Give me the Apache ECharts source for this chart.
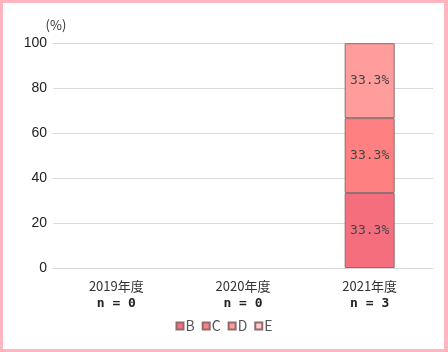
<!DOCTYPE html>
<html>
<head>
<meta charset="utf-8">
<script src="https://cdn.jsdelivr.net/npm/echarts@6/dist/echarts.min.js"></script>
<style>
    html, body { margin: 0; padding: 0; background: #fff; }
    #wrap { position: relative; width: 448px; height: 352px; }
    #chart { position: absolute; left: 0; top: 0; width: 448px; height: 352px; }
    #frame {
        position: absolute; left: 0; top: 0; width: 448px; height: 352px;
        box-sizing: border-box; border: 3px solid #ffb6c1; border-right-width: 4px;
        pointer-events: none;
    }
</style>
</head>
<body>
<div id="wrap">
    <div id="chart"></div>
    <div id="frame"></div>
</div>
<script>
// 年度と回答数
const years = ["2019年度", "2020年度", "2021年度"]
const counts = [0, 0, 3]

// 各評価の割合 (%)
const valuesB = [null, null, 33.3]
const valuesC = [null, null, 33.3]
const valuesD = [null, null, 33.3]
const valuesE = [null, null, null]

const yTicks = [0, 20, 40, 60, 80, 100]

const colors = {
    B: "#f56e7e",
    C: "#ff8080",
    D: "#ff9c9c",
    E: "#ffcaca",
}

function makeSeries(name, data) {
    return {
        name: name,
        type: "bar",
        stack: "total",
        barWidth: 50,
        data: data,
        itemStyle: {
            color: colors[name],
            borderColor: "#8f6b6e",
            borderWidth: 1,
        },
        label: {
            show: true,
            position: "inside",
            fontFamily: "DejaVu Sans Mono",
            fontSize: 13,
            color: "#444",
            formatter: p => (p.value == null ? "" : Number(p.value).toFixed(1) + "%"),
        },
    }
}

const chart = echarts.init(document.getElementById("chart"))
chart.setOption({
    animation: false,
    textStyle: { fontFamily: "Noto Sans CJK JP" },
    grid: { left: 53, right: 15, top: 43, bottom: 84 },
    legend: {
        bottom: 14,
        left: "center",
        icon: "rect",
        itemWidth: 7,
        itemHeight: 7,
        itemGap: 7,
        textStyle: { fontSize: 14, color: "#555", padding: [0, 0, 0, -3] },
        data: ["B", "C", "D", "E"],
    },
    xAxis: {
        type: "category",
        data: years,
        axisLine: { lineStyle: { color: "#d9d9d9" } },
        axisTick: { show: false },
        axisLabel: {
            margin: 10,
            interval: 0,
            formatter: (v, i) => `{a|${v}}\n{b|n = ${counts[i]}}`,
            rich: {
                a: { fontSize: 13, color: "#333", lineHeight: 17 },
                b: { fontSize: 13, color: "#222", fontWeight: "bold", lineHeight: 18, fontFamily: "DejaVu Sans Mono" },
            },
        },
    },
    yAxis: {
        type: "value",
        min: yTicks[0],
        max: yTicks[yTicks.length - 1],
        interval: 20,
        name: "(%)",
        nameLocation: "end",
        nameGap: 11,
        nameTextStyle: { fontSize: 13, color: "#333", padding: [0, 0, 0, 6] },
        axisLine: { show: false },
        axisTick: { show: false },
        axisLabel: { margin: 6, fontSize: 14, color: "#222", fontFamily: "Liberation Sans" },
        splitLine: { lineStyle: { color: "#d9d9d9" } },
    },
    series: [
        makeSeries("B", valuesB),
        makeSeries("C", valuesC),
        makeSeries("D", valuesD),
        makeSeries("E", valuesE),
    ],
})
</script>
</body>
</html>
